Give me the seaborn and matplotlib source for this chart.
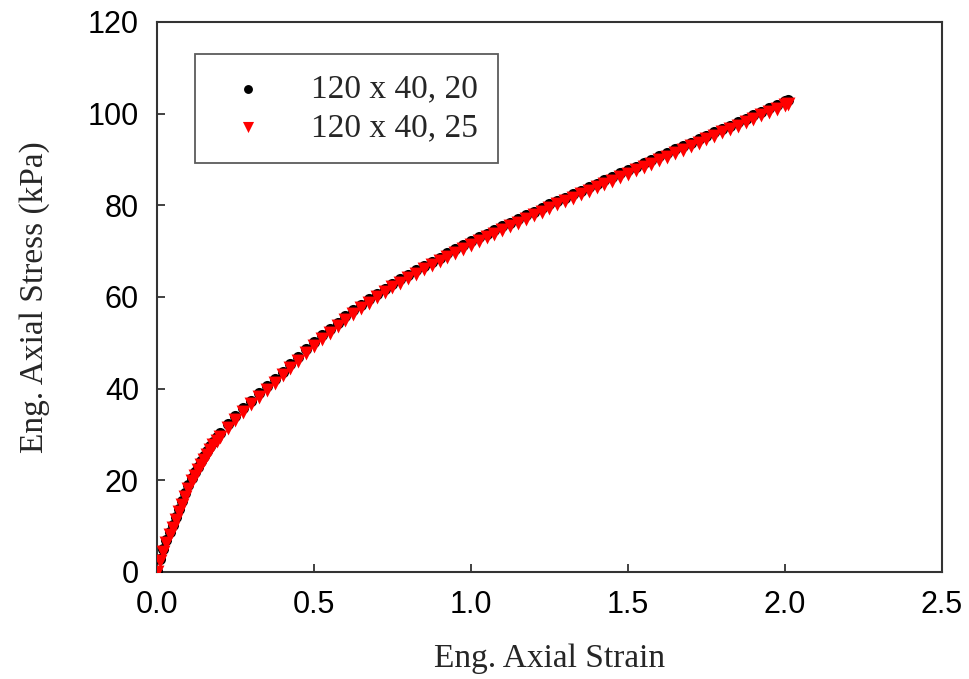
import matplotlib
matplotlib.use("Agg")
import matplotlib.pyplot as plt
import seaborn as sns
import pandas as pd

# ---- data ----
strain = [0.00, 0.01, 0.02, 0.03, 0.04, 0.05, 0.06, 0.07, 0.08, 0.09,
          0.10, 0.11, 0.12, 0.13, 0.14, 0.15, 0.16, 0.17, 0.18, 0.19,
          0.20, 0.225, 0.25, 0.275, 0.30, 0.325, 0.35, 0.375, 0.40, 0.425,
          0.45, 0.475, 0.50, 0.525, 0.55, 0.575, 0.60, 0.625, 0.65, 0.675,
          0.70, 0.725, 0.75, 0.775, 0.80, 0.825, 0.85, 0.875, 0.90, 0.925,
          0.95, 0.975, 1.00, 1.025, 1.05, 1.075, 1.10, 1.125, 1.15, 1.175,
          1.20, 1.225, 1.25, 1.275, 1.30, 1.325, 1.35, 1.375, 1.40, 1.425,
          1.45, 1.475, 1.50, 1.525, 1.55, 1.575, 1.60, 1.625, 1.65, 1.675,
          1.70, 1.725, 1.75, 1.775, 1.80, 1.825, 1.85, 1.875, 1.90, 1.925,
          1.95, 1.975, 2.00, 2.01]

stress_20 = [0.3, 2.9, 5.0, 7.0, 8.7, 10.3, 12.1, 13.8, 15.4, 17.2,
             19.0, 20.6, 21.8, 23.0, 24.2, 25.3, 26.4, 27.5, 28.4, 29.4,
             30.3, 32.2, 34.0, 35.8, 37.4, 39.0, 40.6, 42.1, 43.7, 45.3,
             46.9, 48.6, 50.2, 51.6, 53.0, 54.4, 55.8, 57.1, 58.3, 59.5,
             60.7, 61.8, 62.9, 63.9, 64.9, 65.9, 66.8, 67.7, 68.6, 69.5,
             70.4, 71.3, 72.2, 73.0, 73.8, 74.6, 75.4, 76.2, 77.0, 77.8,
             78.6, 79.4, 80.2, 81.0, 81.7, 82.5, 83.2, 84.0, 84.7, 85.5,
             86.2, 87.0, 87.7, 88.4, 89.2, 89.9, 90.7, 91.4, 92.2, 92.9,
             93.7, 94.4, 95.2, 95.9, 96.7, 97.4, 98.2, 98.9, 99.7, 100.4,
             101.2, 101.9, 102.7, 103.0]

stress_25 = [0.0, 2.3, 4.4, 6.3, 8.0, 9.6, 11.3, 13.0, 14.7, 16.4,
             18.2, 19.8, 21.0, 22.2, 23.4, 24.5, 25.6, 26.6, 27.6, 28.6,
             29.5, 31.4, 33.2, 35.0, 36.6, 38.2, 39.8, 41.3, 42.9, 44.5,
             46.1, 47.8, 49.4, 50.8, 52.2, 53.6, 55.0, 56.3, 57.5, 58.7,
             59.9, 61.0, 62.1, 63.1, 64.1, 65.1, 66.0, 66.9, 67.8, 68.7,
             69.6, 70.5, 71.4, 72.2, 73.0, 73.8, 74.6, 75.4, 76.2, 77.0,
             77.8, 78.6, 79.4, 80.2, 80.9, 81.7, 82.4, 83.2, 83.9, 84.7,
             85.4, 86.2, 86.9, 87.6, 88.4, 89.1, 89.9, 90.6, 91.4, 92.1,
             92.9, 93.6, 94.4, 95.1, 95.9, 96.6, 97.4, 98.1, 98.9, 99.6,
             100.4, 101.1, 101.9, 102.2]

series_labels = ["120 x 40, 20", "120 x 40, 25"]
x_ticks = [0.0, 0.5, 1.0, 1.5, 2.0, 2.5]
y_ticks = [0, 20, 40, 60, 80, 100, 120]

df20 = pd.DataFrame({"strain": strain, "stress": stress_20})
df25 = pd.DataFrame({"strain": strain, "stress": stress_25})

# ---- style ----
sns.set_theme(style="white")
plt.rcParams["font.family"] = ["Liberation Sans", "DejaVu Sans"]

fig = plt.figure(figsize=(9.69, 6.79), dpi=100)
ax = fig.add_axes([0.162, 0.1576, 0.810, 0.810])

sns.scatterplot(data=df20, x="strain", y="stress", ax=ax, color="black",
                marker="o", s=64, linewidth=0, label=series_labels[0], zorder=3)
sns.scatterplot(data=df25, x="strain", y="stress", ax=ax, color="#ff0000",
                marker="v", s=100, linewidth=0, label=series_labels[1], zorder=4)

ax.set_xlim(0, 2.5)
ax.set_ylim(0, 120)
ax.set_xticks(x_ticks)
ax.set_xticklabels([f"{v:.1f}" for v in x_ticks])
ax.set_yticks(y_ticks)
ax.set_yticklabels([str(v) for v in y_ticks])

for sp in ax.spines.values():
    sp.set_visible(True)
    sp.set_color("#333333")
    sp.set_linewidth(1.5)

ax.tick_params(axis="both", direction="in", length=6, width=1.3,
               color="#333333", labelsize=22, pad=13, labelcolor="black",
               bottom=True, left=True, top=False, right=False)

serif = ["Liberation Serif", "DejaVu Serif"]
ax.set_xlabel("Eng. Axial Strain", fontsize=24, family=serif, labelpad=17)
ax.set_ylabel("Eng. Axial Stress (kPa)", fontsize=24, family=serif, labelpad=27)

leg = ax.legend(loc="upper left", bbox_to_anchor=(0.048, 0.942),
                prop={"family": serif, "size": 24}, frameon=True,
                fancybox=False, borderpad=0.6, handlelength=2.0,
                handletextpad=0.9, labelspacing=0.25, borderaxespad=0,
                markerscale=0.8)
leg.get_frame().set_edgecolor("#333333")
leg.get_frame().set_linewidth(1.3)

fig.savefig("out.png", dpi=100)
